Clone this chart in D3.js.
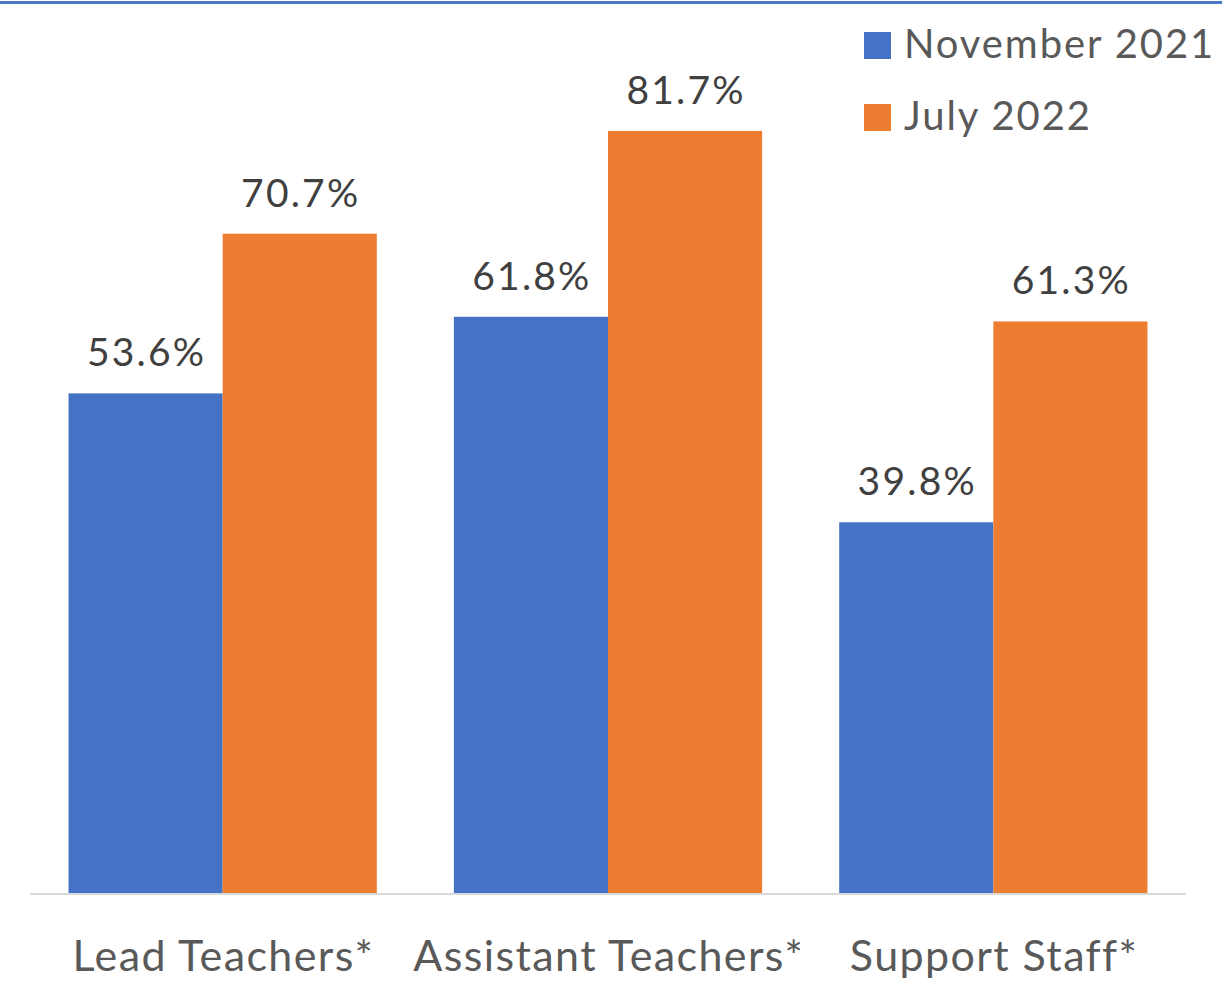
<!DOCTYPE html>
<html>
<head>
<meta charset="utf-8">
<script src="https://cdn.jsdelivr.net/npm/d3@7"></script>
<style>
  body { margin: 0; background: #fff; }
  #viz-container { width: 1222px; height: 981px; }
  text { font-family: Lato, "Open Sans", sans-serif; }
</style>
</head>
<body>
<div id="viz-container"></div>
<script>
// data
let categories = ["Lead Teachers*", "Assistant Teachers*", "Support Staff*"];
let seriesNames = ["November 2021", "July 2022"];
let nov2021 = [53.6, 61.8, 39.8];
let jul2022 = [70.7, 81.7, 61.3];
let colors = ["#4472C4", "#ED7D31"];

let viz = d3.select("#viz-container")
              .append("svg")
                  .attr("id", "viz")
                  .attr("width", 1222)
                  .attr("height", 981)
;

// thin blue rule at the very top
viz.append("line")
    .attr("x1", 0).attr("x2", 1222)
    .attr("y1", 2.5).attr("y2", 2.5)
    .attr("stroke", "#4a77c6")
    .attr("stroke-width", 3)
;

let xScale = d3.scaleBand()
    .domain(categories)
    .range([30, 1186])
    .paddingInner(0.2)
    .paddingOuter(0.1)
;
let xSub = d3.scaleBand()
    .domain(seriesNames)
    .range([0, xScale.bandwidth()])
;
let yScale = d3.scaleLinear()
    .domain([0, 90])
    .range([894, 53.4])
;

// rows: one per category, holding both series
let rows = categories.map(function(c, i){
  return { cat: c, vals: [nov2021[i], jul2022[i]] };
});

let groups = viz.selectAll(".grp").data(rows).enter().append("g")
    .attr("class", "grp")
    .attr("transform", function(d){ return "translate(" + xScale(d.cat) + ",0)"; })
;

let bars = groups.selectAll("g.bar").data(function(d){
      return d.vals.map(function(v, j){ return { name: seriesNames[j], v: v, j: j }; });
    }).enter().append("g").attr("class", "bar");

bars.append("rect")
    .attr("x", function(d){ return xSub(d.name); })
    .attr("y", function(d){ return yScale(d.v); })
    .attr("width", xSub.bandwidth())
    .attr("height", function(d){ return yScale(0) - yScale(d.v); })
    .attr("fill", function(d){ return colors[d.j]; })
;

bars.append("text")
    .attr("x", function(d){ return xSub(d.name) + xSub.bandwidth() / 2 + 1; })
    .attr("y", function(d){ return yScale(d.v) - 27; })
    .attr("text-anchor", "middle")
    .attr("font-size", 39)
    .attr("letter-spacing", 2.2)
    .attr("fill", "#404040")
    .text(function(d){ return d.v.toFixed(1) + "%"; })
;

// baseline
viz.append("line")
    .attr("x1", 30).attr("x2", 1186)
    .attr("y1", yScale(0)).attr("y2", yScale(0))
    .attr("stroke", "#d9d9d9")
    .attr("stroke-width", 2)
;

// category axis
let xAxis = d3.axisBottom(xScale).tickSize(0).tickPadding(0);
let axisG = viz.append("g")
    .attr("transform", "translate(0," + yScale(0) + ")")
    .call(xAxis)
;
axisG.select(".domain").remove();
axisG.selectAll("text")
    .attr("x", 0.7)
    .attr("y", 77)
    .attr("dy", null)
    .attr("font-size", 43)
    .attr("letter-spacing", 1.4)
    .attr("font-family", "Lato, sans-serif")
    .attr("fill", "#595959")
;

// legend
let legend = viz.selectAll(".leg").data(seriesNames).enter().append("g")
    .attr("class", "leg")
    .attr("transform", function(d, i){ return "translate(864," + (32 + i * 72) + ")"; })
;
legend.append("rect")
    .attr("width", 27).attr("height", 27)
    .attr("fill", function(d, i){ return colors[i]; })
;
legend.append("text")
    .attr("x", 40)
    .attr("y", 25.5)
    .attr("font-size", 40)
    .attr("letter-spacing", 1.9)
    .attr("fill", "#595959")
    .text(function(d){ return d; })
;
</script>
</body>
</html>
